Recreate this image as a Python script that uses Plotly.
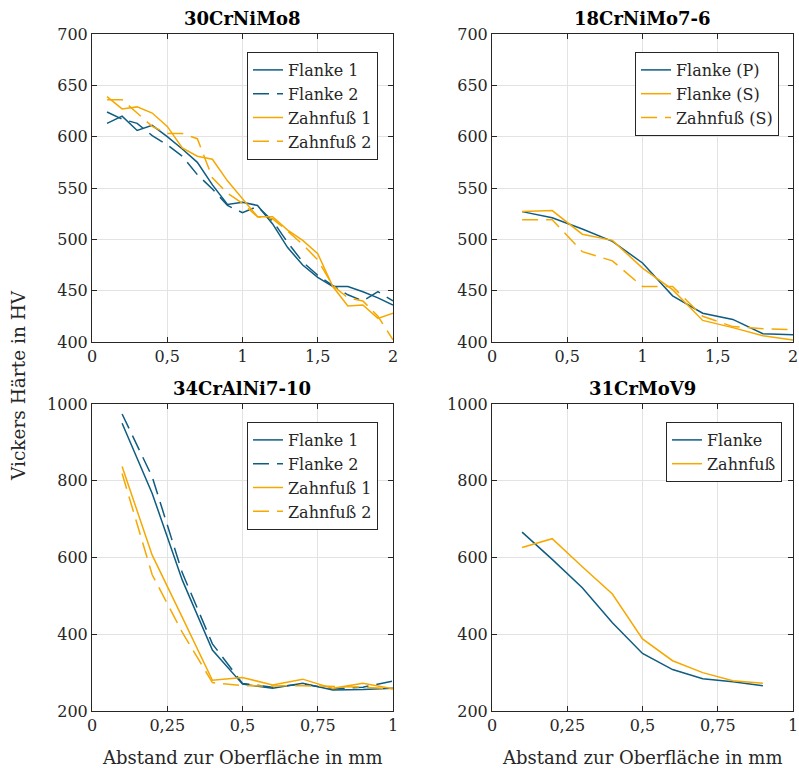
import plotly.graph_objects as go

BLUE = "#0f5c82"
ORANGE = "#f6a800"
FONT = "DejaVu Serif"

# ---- 30CrNiMo8 ----
x_a = [0.1, 0.2, 0.3, 0.4, 0.5, 0.6, 0.7, 0.8, 0.9, 1.0,
       1.1, 1.2, 1.3, 1.4, 1.5, 1.6, 1.7, 1.8, 1.9, 2.0]
a_flanke1 = [613, 620, 606, 611, 600, 588, 575, 553, 534, 536,
             533, 515, 492, 475, 463, 454, 454, 449, 443, 436]
a_flanke2 = [624, 617, 613, 601, 592, 581, 563, 549, 533, 526,
             532, 518, 497, 478, 465, 455, 446, 440, 449, 440]
a_zahn1 = [639, 627, 629, 623, 610, 589, 581, 578, 557, 539,
           522, 522, 509, 499, 486, 454, 435, 436, 423, 428]
a_zahn2 = [636, 636, 623, 610, 603, 603, 598, 560, 545, 535,
           522, 520, 508, 495, 480, 455, 443, 440, 425, 402]

# ---- 18CrNiMo7-6 ----
x_b = [0.2, 0.4, 0.6, 0.8, 1.0, 1.2, 1.4, 1.6, 1.8, 2.0]
b_flanke_p = [527, 521, 510, 498, 477, 445, 428, 422, 408, 407]
b_flanke_s = [527, 528, 505, 499, 472, 451, 421, 414, 406, 402]
b_zahn_s = [519, 519, 488, 479, 454, 454, 425, 415, 413, 412]

# ---- 34CrAlNi7-10 ----
x_c = [0.1, 0.2, 0.3, 0.4, 0.5, 0.6, 0.7, 0.8, 0.9, 1.0]
c_flanke1 = [950, 767, 541, 359, 270, 259, 272, 255, 256, 259]
c_flanke2 = [974, 810, 560, 375, 272, 262, 270, 258, 262, 278]
c_zahn1 = [837, 606, 444, 280, 287, 268, 283, 259, 272, 258]
c_zahn2 = [819, 555, 405, 274, 266, 265, 266, 264, 262, 258]

# ---- 31CrMoV9 ----
x_d = [0.1, 0.2, 0.3, 0.4, 0.5, 0.6, 0.7, 0.8, 0.9]
d_flanke = [666, 595, 521, 430, 350, 308, 284, 276, 266]
d_zahn = [626, 649, 576, 505, 388, 331, 300, 279, 272]

titles = ["30CrNiMo8", "18CrNiMo7-6", "34CrAlNi7-10", "31CrMoV9"]

top_xticks = [0, 0.5, 1, 1.5, 2]
top_xtext = ["0", "0,5", "1", "1,5", "2"]
bot_xticks = [0, 0.25, 0.5, 0.75, 1]
bot_xtext = ["0", "0,25", "0,5", "0,75", "1"]
top_yticks = [400, 450, 500, 550, 600, 650, 700]
bot_yticks = [200, 400, 600, 800, 1000]

W, H = 799, 768
def px_x(a, b):
    return [a / W, b / W]
def px_y(top, bot):
    return [1 - bot / H, 1 - top / H]

dash = "16px,8px"
fig = go.Figure()

def add(x, y, name, color, dashed, ax, legend):
    fig.add_trace(go.Scatter(
        x=x, y=y, name=name, mode="lines",
        line=dict(color=color, width=1.5, dash=dash if dashed else "solid"),
        xaxis="x" + ax, yaxis="y" + ax, legend=legend))

add(x_a, a_flanke1, "Flanke 1", BLUE, False, "", "legend")
add(x_a, a_flanke2, "Flanke 2", BLUE, True, "", "legend")
add(x_a, a_zahn1, "Zahnfuß 1", ORANGE, False, "", "legend")
add(x_a, a_zahn2, "Zahnfuß 2", ORANGE, True, "", "legend")

add(x_b, b_flanke_p, "Flanke (P)", BLUE, False, "2", "legend2")
add(x_b, b_flanke_s, "Flanke (S)", ORANGE, False, "2", "legend2")
add(x_b, b_zahn_s, "Zahnfuß (S)", ORANGE, True, "2", "legend2")

add(x_c, c_flanke1, "Flanke 1", BLUE, False, "3", "legend3")
add(x_c, c_flanke2, "Flanke 2", BLUE, True, "3", "legend3")
add(x_c, c_zahn1, "Zahnfuß 1", ORANGE, False, "3", "legend3")
add(x_c, c_zahn2, "Zahnfuß 2", ORANGE, True, "3", "legend3")

add(x_d, d_flanke, "Flanke", BLUE, False, "4", "legend4")
add(x_d, d_zahn, "Zahnfuß", ORANGE, False, "4", "legend4")

axcommon = dict(showline=True, linecolor="#262626", linewidth=1, mirror="ticks",
                ticks="inside", ticklen=5, tickcolor="#262626", automargin=False,
                showgrid=True, gridcolor="#e3e3e3", gridwidth=1, zeroline=False,
                tickfont=dict(family=FONT, size=16, color="#262626"))

doms_x = [px_x(92, 393), px_x(492, 793), px_x(92, 393), px_x(492, 793)]
doms_y = [px_y(34, 342), px_y(34, 342), px_y(404, 711), px_y(404, 711)]
ranges_x = [[0, 2], [0, 2], [0, 1], [0, 1]]
ranges_y = [[400, 700], [400, 700], [200, 1000], [200, 1000]]
xt = [(top_xticks, top_xtext), (top_xticks, top_xtext), (bot_xticks, bot_xtext), (bot_xticks, bot_xtext)]
yt = [top_yticks, top_yticks, bot_yticks, bot_yticks]

layout = dict(width=W, height=H, margin=dict(l=0, r=0, t=0, b=0),
              paper_bgcolor="white", plot_bgcolor="white",
              font=dict(family=FONT, size=16, color="#262626"))
for i in range(4):
    s = "" if i == 0 else str(i + 1)
    layout["xaxis" + s] = dict(axcommon, domain=doms_x[i], range=ranges_x[i],
                               tickvals=xt[i][0], ticktext=xt[i][1],
                               anchor="y" + s)
    layout["yaxis" + s] = dict(axcommon, domain=doms_y[i], range=ranges_y[i],
                               tickvals=yt[i], anchor="x" + s)

legcommon = dict(bgcolor="white", bordercolor="#262626", borderwidth=1,
                 font=dict(family=FONT, size=16, color="#262626"),
                 xanchor="right", yanchor="top", tracegroupgap=0)
layout["legend"] = dict(legcommon, x=378 / W, y=1 - 52 / H)
layout["legend2"] = dict(legcommon, x=779 / W, y=1 - 52 / H)
layout["legend3"] = dict(legcommon, x=378 / W, y=1 - 422 / H)
layout["legend4"] = dict(legcommon, x=782 / W, y=1 - 422 / H)

ann = []
cx = [(92 + 393) / 2 / W, (492 + 793) / 2 / W]
for i, t in enumerate(titles):
    ann.append(dict(text="<b>" + t + "</b>", x=cx[i % 2], y=1 - (18 if i < 2 else 388) / H,
                    xref="paper", yref="paper", showarrow=False,
                    xanchor="center", yanchor="middle",
                    font=dict(family=FONT, size=18, color="#000000")))
for i in range(2):
    ann.append(dict(text="Abstand zur Oberfläche in mm", x=cx[i], y=1 - 757 / H,
                    xref="paper", yref="paper", showarrow=False,
                    xanchor="center", yanchor="middle",
                    font=dict(family=FONT, size=18, color="#262626")))
ann.append(dict(text="Vickers Härte in HV", x=18 / W, y=1 - 386 / H,
                xref="paper", yref="paper", showarrow=False, textangle=-90,
                xanchor="center", yanchor="middle",
                font=dict(family=FONT, size=18.5, color="#262626")))
layout["annotations"] = ann

fig.update_layout(**layout)
fig.write_html("out.html", config={"displayModeBar": False},
               post_script="document.body.style.margin='0px';document.body.style.overflow='hidden';")
